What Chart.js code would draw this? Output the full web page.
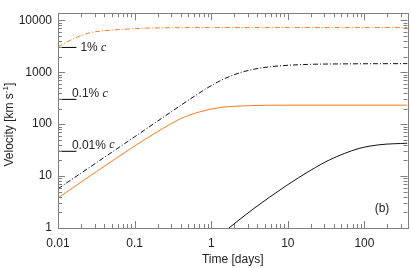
<!DOCTYPE html>
<html>
<head>
<meta charset="utf-8">
<script src="https://cdn.jsdelivr.net/npm/chart.js@4.4.1/dist/chart.umd.min.js"></script>
<style>
  html, body { margin: 0; padding: 0; background: #fff; }
  #grafico { display: block; }
</style>
</head>
<body>
<canvas id="grafico" width="411" height="268"></canvas>
<script>
// dados (tempo em dias, velocidade em km/s)
const tempoLaranjaTracejado = [0.01, 0.013, 0.018, 0.026, 0.04, 0.064, 0.1, 0.16, 0.3, 1, 10, 365];
const velLaranjaTracejado   = [3100, 3800, 4800, 5750, 6300, 6650, 6900, 7100, 7200, 7250, 7250, 7250];

const tempoPretoTracejado = [0.01, 0.1, 0.6, 0.85, 1.2, 1.7, 2.5, 3.7, 6, 10, 20, 50, 365];
const velPretoTracejado   = [5.7, 57, 343, 478, 641, 818, 1000, 1150, 1280, 1360, 1420, 1446, 1465];

const tempoLaranja = [0.01, 0.1, 0.2, 0.4, 0.7, 1.28, 2.9, 10, 365];
const velLaranja   = [3.8, 38, 72, 128, 172, 208, 226, 232, 232];

const tempoPreto = [1.7, 3.5, 9.5, 20, 35, 85, 155, 365];
const velPreto   = [1, 2.3, 6.5, 13, 20.5, 34, 40, 43];

// marcas de referência (fração de c)
const marcaTempo = [0.01, 0.0174];
const marcaVel = [3000, 300, 30];
const marcaTexto = ['1%', '0.1%', '0.01%'];

const ticksX = [0.01, 0.1, 1, 10, 100];
const ticksY = [1, 10, 100, 1000, 10000];

const laranja = '#ff7a1c';
const pontos = (t, v) => t.map((x, i) => ({ x, y: v[i] }));

const datasets = [];
marcaVel.forEach(v => {
  datasets.push({ data: pontos(marcaTempo, [v, v]), borderColor: '#000000', cubicInterpolationMode: 'default' });
});
datasets.push(
  { data: pontos(tempoLaranjaTracejado, velLaranjaTracejado), borderColor: laranja, borderDash: [5, 2, 1, 2] },
  { data: pontos(tempoPretoTracejado, velPretoTracejado), borderColor: '#111', borderDash: [5, 2, 1, 2] },
  { data: pontos(tempoLaranja, velLaranja), borderColor: laranja },
  { data: pontos(tempoPreto, velPreto), borderColor: '#111' }
);
datasets.forEach(d => {
  d.borderWidth = 1;
  d.pointRadius = 0;
  d.fill = false;
  if (!d.cubicInterpolationMode) d.cubicInterpolationMode = 'monotone';
});

const molduraPlugin = {
  id: 'moldura',
  afterDraw(chart) {
    const ctx = chart.ctx;
    const a = chart.chartArea;
    const xs = chart.scales.x, ys = chart.scales.y;
    ctx.save();
    ctx.strokeStyle = '#7f7f7f';
    ctx.lineWidth = 1;
    ctx.strokeRect(Math.round(a.left) + 0.5, Math.round(a.top) + 0.5,
      Math.round(a.right - a.left), Math.round(a.bottom - a.top));

    // ticks para dentro nos quatro lados
    ctx.beginPath();
    for (let n = -2; n <= 2; n++) {
      for (let k = 1; k <= 9; k++) {
        const v = k * Math.pow(10, n);
        if (v < xs.min || v > xs.max) continue;
        const px = Math.round(xs.getPixelForValue(v)) + 0.5;
        const len = k === 1 ? 7 : 4;
        ctx.moveTo(px, a.bottom); ctx.lineTo(px, a.bottom - len);
        ctx.moveTo(px, a.top); ctx.lineTo(px, a.top + len);
      }
    }
    for (let n = 0; n <= 4; n++) {
      for (let k = 1; k <= 9; k++) {
        const v = k * Math.pow(10, n);
        if (v < ys.min || v > ys.max) continue;
        const py = Math.round(ys.getPixelForValue(v)) + 0.5;
        const len = k === 1 ? 7 : 4;
        ctx.moveTo(a.left, py); ctx.lineTo(a.left + len, py);
        ctx.moveTo(a.right, py); ctx.lineTo(a.right - len, py);
      }
    }
    ctx.stroke();

    // rótulos das marcas de c
    ctx.fillStyle = '#222';
    ctx.textBaseline = 'middle';
    marcaVel.forEach((v, i) => {
      let x, y;
      if (i === 0) {
        x = xs.getPixelForValue(marcaTempo[1]) + 4;
        y = ys.getPixelForValue(v);
      } else {
        x = xs.getPixelForValue(0.0152);
        y = ys.getPixelForValue(v) - 6;
      }
      ctx.font = '12px "Liberation Sans", Arial, sans-serif';
      ctx.fillText(marcaTexto[i], x, y);
      const w = ctx.measureText(marcaTexto[i] + ' ').width;
      ctx.font = 'italic 12px "Liberation Serif", serif';
      ctx.fillText('c', x + w, y);
    });

    // (b)
    ctx.font = '12px "Liberation Sans", Arial, sans-serif';
    ctx.textAlign = 'center';
    ctx.fillText('(b)', 382, 209);

    // título do eixo y com expoente
    const cy = (a.top + a.bottom) / 2 + 4;
    ctx.translate(10, cy);
    ctx.rotate(-Math.PI / 2);
    ctx.textAlign = 'left';
    const f1 = '12px "Liberation Sans", Arial, sans-serif';
    const f2 = '8px "Liberation Sans", Arial, sans-serif';
    ctx.font = f1;
    const p1 = 'Velocity [km s', p3 = ']';
    const w1 = ctx.measureText(p1).width, w3 = ctx.measureText(p3).width;
    ctx.font = f2;
    const w2 = ctx.measureText('-1').width;
    let x0 = -(w1 + w2 + w3) / 2;
    ctx.font = f1;
    ctx.fillText(p1, x0, 0);
    ctx.font = f2;
    ctx.fillText('-1', x0 + w1, -4);
    ctx.font = f1;
    ctx.fillText(p3, x0 + w1 + w2, 0);
    ctx.restore();
  }
};

new Chart(document.getElementById('grafico'), {
  type: 'line',
  data: { datasets },
  options: {
    responsive: false,
    animation: false,
    events: [],
    layout: { padding: { top: 3.5, right: 3.5, left: 0, bottom: 0 } },
    plugins: { legend: { display: false }, tooltip: { enabled: false } },
    scales: {
      x: {
        type: 'logarithmic',
        min: 0.01,
        max: 365,
        grid: { display: false, drawTicks: false },
        border: { display: false },
        afterBuildTicks: s => { s.ticks = ticksX.map(value => ({ value })); },
        afterFit: s => { s.height = 40; },
        ticks: {
          color: '#222',
          padding: 8,
          maxRotation: 0,
          autoSkip: false,
          font: { family: '"Liberation Sans", Arial, sans-serif', size: 12 },
          callback: v => String(v)
        },
        title: {
          display: true,
          text: 'Time [days]',
          color: '#222',
          font: { family: '"Liberation Sans", Arial, sans-serif', size: 12 },
          padding: { top: 0, bottom: 1 }
        }
      },
      y: {
        type: 'logarithmic',
        min: 1,
        max: 13700,
        grid: { display: false, drawTicks: false },
        border: { display: false },
        afterBuildTicks: s => { s.ticks = ticksY.map(value => ({ value })); },
        afterFit: s => { s.width = 58; },
        ticks: {
          color: '#222',
          padding: 6,
          autoSkip: false,
          font: { family: '"Liberation Sans", Arial, sans-serif', size: 12 },
          callback: v => String(v)
        }
      }
    }
  },
  plugins: [molduraPlugin]
});
</script>
</body>
</html>
